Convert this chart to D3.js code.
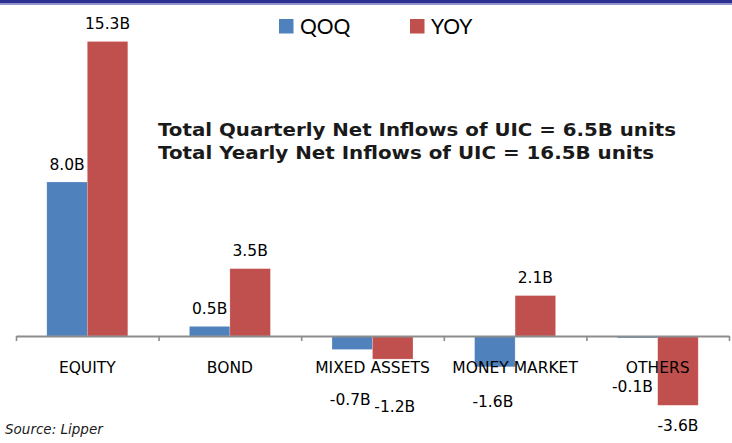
<!DOCTYPE html>
<html>
<head>
<meta charset="utf-8">
<script src="https://cdn.jsdelivr.net/npm/d3@7"></script>
<style>
  html, body { margin: 0; padding: 0; background: #fff; }
  svg { display: block; }
</style>
</head>
<body>
<div id="chart"></div>
<script>
// Netto-Zuflüsse nach Fondskategorie, QOQ vs YOY (Mrd. Einheiten)
const categories  = ["EQUITY", "BOND", "MIXED ASSETS", "MONEY MARKET", "OTHERS"];
const seriesNames = ["QOQ", "YOY"];
const qoqValues   = [8.0, 0.5, -0.7, -1.6, -0.1];
const yoyValues   = [15.3, 3.5, -1.2, 2.1, -3.6];
const noteLines   = [
  "Total Quarterly Net Inflows of UIC = 6.5B units",
  "Total Yearly Net Inflows of UIC = 16.5B units"
];
const sourceText  = "Source: Lipper";

const CFG = {
  w: 732, h: 443,
  xRange: [16, 729],
  zeroY: 336, pxPerUnit: 19.25,
  cQOQ: "#4F81BD", cYOY: "#C0504D",
  axis: "#8c8c8c", txt: "#000",
  font: "'DejaVu Sans', Verdana, sans-serif"
};

// Label-Verschiebungen für negative Balken (wie im Original von Hand gesetzt)
const negLabelDy = { QOQ: [0, 0, 56, 40, 54], YOY: [0, 0, 53, 0, 26] };
const negLabelDx = { QOQ: [0, 0, -2, -2, -5], YOY: [0, 0, 2, 0, 0] };

(function(){
  const svg = d3.select("#chart").append("svg").attr("width", CFG.w).attr("height", CFG.h);
  svg.append("rect").attr("width", CFG.w).attr("height", CFG.h).attr("fill", "#fff");

  // Kopfbalken
  svg.append("rect").attr("x", 0).attr("y", 0).attr("width", CFG.w).attr("height", 3.4).attr("fill", "#2E3192");
  svg.append("rect").attr("x", 0).attr("y", 3.4).attr("width", CFG.w).attr("height", 1.4).attr("fill", "#7E80C2");

  const rows = categories.map((c, i) => ({ cat: c, QOQ: qoqValues[i], YOY: yoyValues[i] }));

  const x = d3.scaleBand().domain(categories).range(CFG.xRange).padding(0);
  const bw = x.bandwidth();
  const x1 = d3.scaleBand().domain(seriesNames).range([bw * 0.216, bw * 0.784]).padding(0);
  const yMin = -4, yMax = 16;
  const y = d3.scaleLinear().domain([yMin, yMax])
    .range([CFG.zeroY - yMin * CFG.pxPerUnit, CFG.zeroY - yMax * CFG.pxPerUnit]);
  const color = d3.scaleOrdinal().domain(seriesNames).range([CFG.cQOQ, CFG.cYOY]);
  const loc = d3.formatLocale({ decimal: ".", thousands: ",", grouping: [3], currency: ["", ""], minus: "-" });
  const fmt = v => loc.format(".1f")(v) + "B";

  // Balken
  const groups = svg.append("g").selectAll("g").data(rows).join("g")
    .attr("transform", d => `translate(${x(d.cat)},0)`);
  groups.selectAll("rect")
    .data((d, i) => seriesNames.map(s => ({ s, v: d[s], i })))
    .join("rect")
    .attr("x", d => x1(d.s))
    .attr("width", x1.bandwidth())
    .attr("y", d => y(Math.max(0, d.v)))
    .attr("height", d => Math.abs(y(d.v) - y(0)))
    .attr("fill", d => color(d.s))
    .attr("stroke", "rgba(255,255,255,0.35)").attr("stroke-width", 0.6);

  // Achse mit Ticks an den Kategoriegrenzen
  const xEdge = d3.scaleLinear().domain([0, categories.length]).range(CFG.xRange);
  const ax = svg.append("g").attr("transform", `translate(0,${y(0)})`)
    .call(d3.axisBottom(xEdge).tickValues(d3.range(categories.length + 1)).tickSize(5).tickSizeOuter(0).tickFormat(""));
  ax.select(".domain").attr("stroke", CFG.axis).attr("stroke-width", 2);
  ax.selectAll(".tick line").attr("stroke", CFG.axis).attr("stroke-width", 1.6);

  // Kategorienamen
  const axC = svg.append("g").attr("transform", `translate(0,${y(0)})`)
    .call(d3.axisBottom(x).tickSize(0));
  axC.select(".domain").remove();
  axC.selectAll(".tick text")
    .attr("y", 37).attr("dy", 0)
    .attr("font-family", CFG.font).attr("font-size", 15.5).attr("fill", CFG.txt);

  // Wertlabels
  groups.selectAll("text.val")
    .data(d => seriesNames.map(s => ({ s, v: d[s], i: categories.indexOf(d.cat) })))
    .join("text").attr("class", "val")
    .attr("x", d => x1(d.s) + x1.bandwidth() / 2 + (d.v < 0 ? negLabelDx[d.s][d.i] : 0))
    .attr("y", d => d.v >= 0 ? y(d.v) - 12.5 : y(d.v) + negLabelDy[d.s][d.i])
    .attr("text-anchor", "middle")
    .attr("font-family", CFG.font).attr("font-size", 15.5).attr("fill", CFG.txt)
    .text(d => fmt(d.v));

  // Legende
  const lgPos = [{ sx: 279, tx: 300 }, { sx: 410, tx: 431 }];
  const lg = svg.append("g").selectAll("g").data(seriesNames).join("g");
  lg.append("rect")
    .attr("x", (d, i) => lgPos[i].sx).attr("y", 19).attr("width", 14.5).attr("height", 14.5)
    .attr("fill", d => color(d));
  lg.append("text")
    .attr("x", (d, i) => lgPos[i].tx).attr("y", 33.5)
    .attr("font-family", "Lato, 'Liberation Sans', sans-serif").attr("font-size", 21).attr("fill", CFG.txt)
    .text(d => d);

  // Summen-Hinweis
  const noteW = [518, 496];
  svg.append("g").selectAll("text").data(noteLines).join("text")
    .attr("x", 158).attr("y", (d, i) => 136 + i * 23)
    .attr("font-family", CFG.font).attr("font-weight", "bold").attr("font-size", 17)
    .attr("fill", "#1a1a1a")
    .attr("textLength", (d, i) => noteW[i]).attr("lengthAdjust", "spacingAndGlyphs")
    .text(d => d);

  // Quelle
  svg.append("text").attr("x", 5).attr("y", 433.5)
    .attr("font-family", CFG.font).attr("font-style", "italic").attr("font-size", 13.5)
    .attr("fill", "#1a1a1a").text(sourceText);
})();
</script>
</body>
</html>
